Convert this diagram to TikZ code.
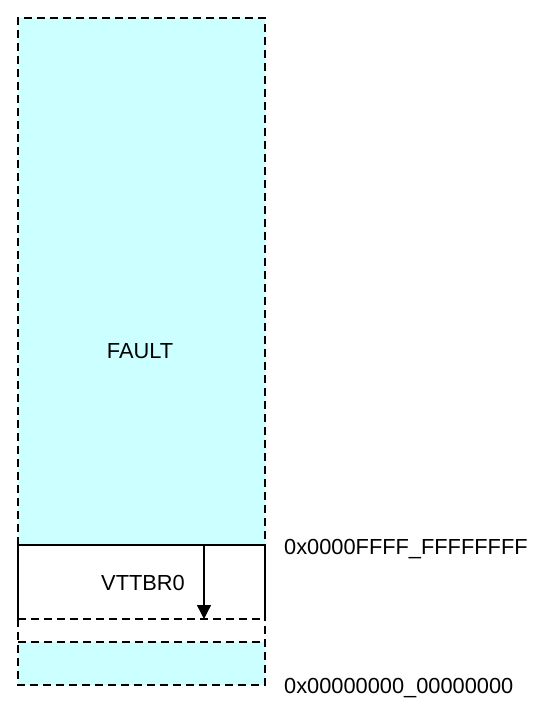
\documentclass[tikz,border=0pt]{standalone}
\usepackage{fontspec}
\setmainfont{Liberation Sans}
\usetikzlibrary{arrows.meta}
\definecolor{regcyan}{HTML}{CCFFFF}
\begin{document}
\begin{tikzpicture}[x=1pt,y=-1pt,
  dashbox/.style={draw=black,line width=1.2pt,dash pattern=on 8pt off 5pt},
  solidbox/.style={draw=black,line width=1.2pt},
  lbl/.style={font=\fontsize{21.8}{26}\selectfont,inner sep=0pt},
  addr/.style={font=\fontsize{21.8}{26}\selectfont,inner sep=0pt,anchor=west}]
\useasboundingbox (0,0) rectangle (537,715);
% regions
\fill[regcyan] (18,18) rectangle (265,545);
\fill[regcyan] (18,642) rectangle (265,685);
\draw[dashbox] (18,545) -- (18,18) -- (265,18) -- (265,545);
\draw[dashbox] (18,619) -- (18,685) -- (265,685) -- (265,619);
\draw[dashbox] (18,619) -- (265,619);
\draw[dashbox] (18,642) -- (265,642);
\draw[solidbox] (18,619) -- (18,545) -- (265,545) -- (265,619);
% labels
\node[lbl] (fault) at (140,351) {FAULT};
\node[lbl] (vttbr) at (143,583) {VTTBR0};
\node[addr] (hi) at (284,549) {0x0000FFFF\_FFFFFFFF};
\node[addr] (lo) at (284,688) {0x00000000\_00000000};
% arrow
\coordinate (atop) at (204,545);
\coordinate (abot) at (204,619);
\draw[line width=1.4pt,-{Triangle[width=14pt,length=14pt]}] (atop) -- (abot);
\end{tikzpicture}
\end{document}
